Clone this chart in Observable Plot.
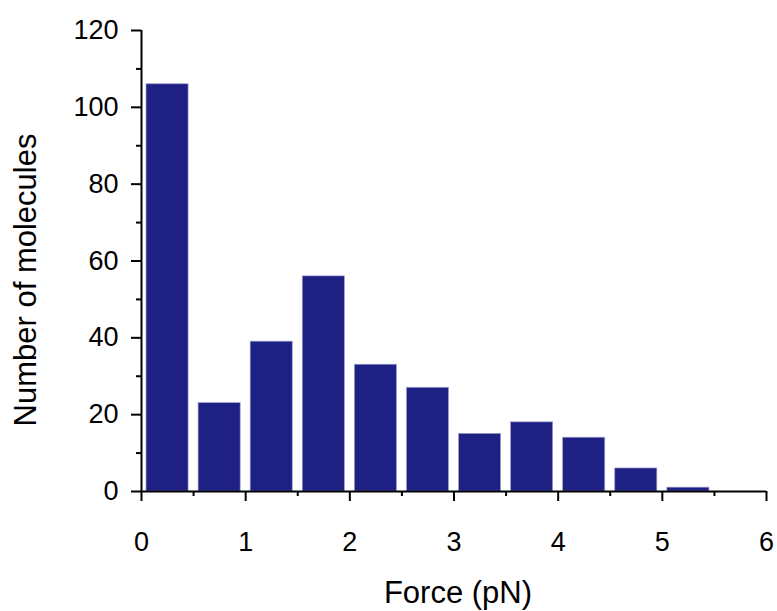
<!DOCTYPE html>
<html>
<head>
<meta charset="utf-8">
<script src="https://cdn.jsdelivr.net/npm/d3@7"></script>
<script src="https://cdn.jsdelivr.net/npm/@observablehq/plot@0.6"></script>
<style>
  html, body { margin: 0; padding: 0; background: #fff; }
  #chart { width: 777px; height: 611px; }
  svg { font-family: "Liberation Sans", Arial, sans-serif; }
</style>
</head>
<body>
<div id="chart"></div>
<script>
// Histogram bins (pN) and counts
const binStarts = [0, 0.5, 1.0, 1.5, 2.0, 2.5, 3.0, 3.5, 4.0, 4.5, 5.0];
const binEnds   = [0.5, 1.0, 1.5, 2.0, 2.5, 3.0, 3.5, 4.0, 4.5, 5.0, 5.5];
const counts    = [106, 23, 39, 56, 33, 27, 15, 18, 14, 6, 1];

const xMajorTicks = [0, 1, 2, 3, 4, 5, 6];
const xMinorTicks = [0.5, 1.5, 2.5, 3.5, 4.5, 5.5];
const yMajorTicks = [0, 20, 40, 60, 80, 100, 120];
const yMinorTicks = [10, 30, 50, 70, 90, 110];

const xTitle = "Force (pN)";
const yTitle = "Number of molecules";

const bars = binStarts.map((s, i) => ({x1: s, x2: binEnds[i], y: counts[i]}));

const barColor = "#1E2084";

const chart = Plot.plot({
  width: 777,
  height: 611,
  marginLeft: 141,
  marginRight: 11,
  marginTop: 30,
  marginBottom: 120,
  style: {fontFamily: "'Liberation Sans', Arial, sans-serif", background: "#fff", color: "#000"},
  x: {domain: [0, 6]},
  y: {domain: [0, 120]},
  marks: [
    Plot.rectY(bars, {x1: "x1", x2: "x2", y: "y", fill: barColor, stroke: "#9EA0D0", strokeWidth: 0.7, insetLeft: 5, insetRight: 5}),
    // axis lines
    Plot.ruleY([0], {stroke: "#000", strokeWidth: 2}),
    Plot.ruleX([0], {stroke: "#000", strokeWidth: 2}),
    // x axis major + minor ticks
    Plot.axisX(xMajorTicks, {tickSize: 10, tickPadding: 30, strokeWidth: 2, fontSize: 27, label: null, tickFormat: d => String(d)}),
    Plot.axisX(xMinorTicks, {tickSize: 5, strokeWidth: 2, tickFormat: () => "", label: null}),
    // y axis major + minor ticks
    Plot.axisY(yMajorTicks, {tickSize: 10, tickPadding: 13, strokeWidth: 2, fontSize: 27, label: null, tickFormat: d => String(d)}),
    Plot.axisY(yMinorTicks, {tickSize: 5, strokeWidth: 2, tickFormat: () => "", label: null}),
    // axis titles
    Plot.text([xTitle], {frameAnchor: "bottom", text: d => d, dy: 102, dx: 4, fontSize: 31, textAnchor: "middle", lineAnchor: "middle", fill: "#000"}),
    Plot.text([yTitle], {frameAnchor: "left", text: d => d, dx: -115, dy: 19, rotate: -90, fontSize: 31, textAnchor: "middle", lineAnchor: "middle", fill: "#000"})
  ]
});

document.getElementById("chart").appendChild(chart);
</script>
</body>
</html>
